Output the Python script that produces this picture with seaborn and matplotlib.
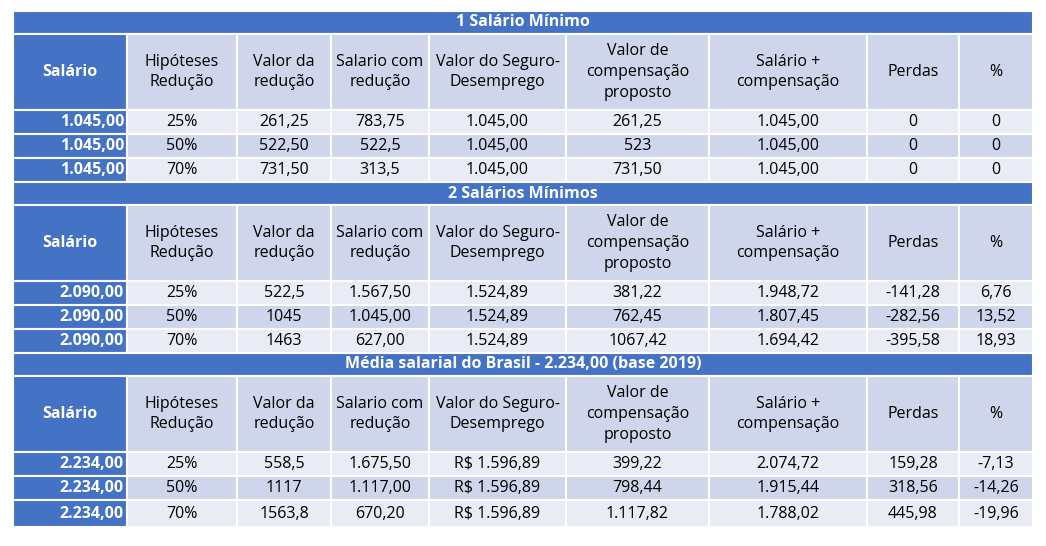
import matplotlib.pyplot as plt
import seaborn as sns
from matplotlib.patches import Rectangle

sns.set_theme(style="white")
plt.rcParams["font.family"] = "Open Sans"

titles = ["1 Salário Mínimo", "2 Salários Mínimos", "Média salarial do Brasil - 2.234,00 (base 2019)"]
headers = ["Salário", "Hipóteses\nRedução", "Valor da\nredução", "Salario com\nredução",
           "Valor do Seguro-\nDesemprego", "Valor de\ncompensação\nproposto",
           "Salário +\ncompensação", "Perdas", "%"]

bloco1 = [["1.045,00", "25%", "261,25", "783,75", "1.045,00", "261,25", "1.045,00", "0", "0"],
          ["1.045,00", "50%", "522,50", "522,5", "1.045,00", "523", "1.045,00", "0", "0"],
          ["1.045,00", "70%", "731,50", "313,5", "1.045,00", "731,50", "1.045,00", "0", "0"]]
bloco2 = [["2.090,00", "25%", "522,5", "1.567,50", "1.524,89", "381,22", "1.948,72", "-141,28", "6,76"],
          ["2.090,00", "50%", "1045", "1.045,00", "1.524,89", "762,45", "1.807,45", "-282,56", "13,52"],
          ["2.090,00", "70%", "1463", "627,00", "1.524,89", "1067,42", "1.694,42", "-395,58", "18,93"]]
bloco3 = [["2.234,00", "25%", "558,5", "1.675,50", "R$ 1.596,89", "399,22", "2.074,72", "159,28", "-7,13"],
          ["2.234,00", "50%", "1117", "1.117,00", "R$ 1.596,89", "798,44", "1.915,44", "318,56", "-14,26"],
          ["2.234,00", "70%", "1563,8", "670,20", "R$ 1.596,89", "1.117,82", "1.788,02", "445,98", "-19,96"]]
blocos = [bloco1, bloco2, bloco3]

BLUE = "#4472C4"
LIGHT = "#CFD5EA"
PALE = "#E9EBF5"
xs = [13, 127, 237, 331, 429, 566, 709, 867, 959, 1033]

fig = plt.figure(figsize=(10.46, 5.46), dpi=100)
ax = fig.add_axes([0, 0, 1, 1])
ax.set_xlim(0, 1046)
ax.set_ylim(546, 0)
ax.axis("off")

def cell(x0, y0, w, h, color):
    ax.add_patch(Rectangle((x0, y0), w, h, facecolor=color, edgecolor="white", linewidth=1.5))

FS = 11.5
y = 11
for b, (titulo, linhas) in enumerate(zip(titles, blocos)):
    cell(xs[0], y, xs[-1] - xs[0], 23, BLUE)
    ax.text((xs[0] + xs[-1]) / 2, y + 11.5, titulo, color="white", fontweight="bold",
            ha="center", va="center", fontsize=FS)
    y += 23
    hh = 76
    for j, h in enumerate(headers):
        cell(xs[j], y, xs[j + 1] - xs[j], hh, BLUE if j == 0 else LIGHT)
        ax.text((xs[j] + xs[j + 1]) / 2, y + hh / 2, h, ha="center", va="center",
                fontsize=FS, linespacing=1.4,
                color="white" if j == 0 else "black",
                fontweight="bold" if j == 0 else "normal")
    y += hh
    for i, linha in enumerate(linhas):
        rh = 27 if (b == 2 and i == 2) else 24
        for j, v in enumerate(linha):
            cor = BLUE if j == 0 else (PALE if i % 2 == 0 else LIGHT)
            cell(xs[j], y, xs[j + 1] - xs[j], rh, cor)
            if j == 0:
                ax.text(xs[1] - 3, y + rh / 2, v, ha="right", va="center", fontsize=FS,
                        color="white", fontweight="bold")
            else:
                ax.text((xs[j] + xs[j + 1]) / 2, y + rh / 2, v, ha="center", va="center",
                        fontsize=FS, color="black")
        y += rh

fig.savefig("out.png", dpi=100)
